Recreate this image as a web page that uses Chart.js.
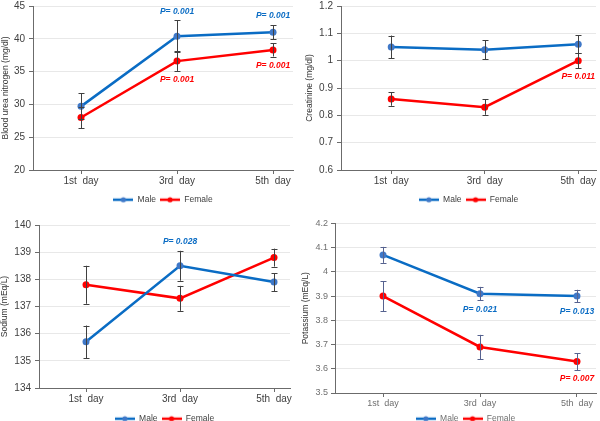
<!DOCTYPE html>
<html>
<head>
<meta charset="utf-8">
<script src="https://cdn.jsdelivr.net/npm/chart.js@4.4.1/dist/chart.umd.min.js"></script>
<style>
  html, body { margin: 0; padding: 0; background: #fff; width: 600px; height: 421px; overflow: hidden; }
  canvas { position: absolute; }
</style>
</head>
<body>
<canvas id="bun" width="300" height="218" style="left:0;top:-4px"></canvas>
<canvas id="cr" width="300" height="218" style="left:300px;top:-4px"></canvas>
<canvas id="na" width="300" height="218" style="left:0;top:215px"></canvas>
<canvas id="k" width="300" height="218" style="left:300px;top:215px"></canvas>
<script>
// Data
const days = ['1st  day', '3rd  day', '5th  day'];
const seriesNames = ['Male', 'Female'];

const bunMale = [29.7, 40.4, 41.0];
const bunMaleErr = [2.0, 2.4, 1.1];
const bunFemale = [28.0, 36.6, 38.3];
const bunFemaleErr = [1.6, 1.5, 1.0];

const crMale = [1.05, 1.04, 1.06];
const crMaleErr = [0.042, 0.035, 0.033];
const crFemale = [0.86, 0.83, 1.0];
const crFemaleErr = [0.025, 0.028, 0.027];

const naMale = [135.7, 138.5, 137.9];
const naMaleErr = [0.6, 0.55, 0.33];
const naFemale = [137.8, 137.3, 138.8];
const naFemaleErr = [0.7, 0.46, 0.33];

const kMale = [4.07, 3.91, 3.90];
const kMaleErr = [0.033, 0.028, 0.026];
const kFemale = [3.90, 3.69, 3.63];
const kFemaleErr = [0.062, 0.05, 0.035];

// P value notes: series 0 = Male, 1 = Female; day = index in days
const bunP = [
  { series: 0, day: 1, text: 'P= 0.001', above: true },
  { series: 0, day: 2, text: 'P= 0.001', above: true },
  { series: 1, day: 1, text: 'P= 0.001', above: false },
  { series: 1, day: 2, text: 'P= 0.001', above: false }
];
const crP = [{ series: 1, day: 2, text: 'P= 0.011', above: false }];
const naP = [{ series: 0, day: 1, text: 'P= 0.028', above: true }];
const kP = [
  { series: 0, day: 1, text: 'P= 0.021', above: false },
  { series: 0, day: 2, text: 'P= 0.013', above: false },
  { series: 1, day: 2, text: 'P= 0.007', above: false }
];

// y axis ranges [min, max, step]
const bunRange = [20, 45, 5];
const crRange = [0.6, 1.2, 0.1];
const naRange = [134, 140, 1];
const kRange = [3.5, 4.2, 0.1];

const FONT = '"Liberation Sans", Arial, sans-serif';
const BLUE = '#0A6CC4';
const BLUE_DOT = '#3F78C8';
const RED = '#FF0000';

// draws the error whiskers from dataset.errors
const errorBars = {
  id: 'errorBars',
  afterDatasetsDraw(chart, args, opts) {
    const { ctx } = chart;
    const x = chart.scales.x, y = chart.scales.y;
    ctx.save();
    ctx.strokeStyle = opts.color;
    ctx.lineWidth = 1;
    chart.data.datasets.forEach((ds) => {
      ds.errors.forEach((e, i) => {
        const px = Math.round(x.getPixelForValue(i)) + 0.5;
        const top = y.getPixelForValue(ds.data[i].y + e);
        const bot = y.getPixelForValue(ds.data[i].y - e);
        ctx.beginPath();
        ctx.moveTo(px, top); ctx.lineTo(px, bot);
        ctx.moveTo(px - 3, Math.round(top) + 0.5); ctx.lineTo(px + 3, Math.round(top) + 0.5);
        ctx.moveTo(px - 3, Math.round(bot) + 0.5); ctx.lineTo(px + 3, Math.round(bot) + 0.5);
        ctx.stroke();
      });
    });
    ctx.restore();
  }
};

// P value texts placed just past the error whisker
const pLabels = {
  id: 'pLabels',
  afterDatasetsDraw(chart, args, opts) {
    const { ctx } = chart;
    const x = chart.scales.x, y = chart.scales.y;
    ctx.save();
    ctx.font = 'italic bold 8.5px ' + FONT;
    ctx.textAlign = 'center';
    ctx.textBaseline = 'middle';
    (opts.items || []).forEach((p) => {
      const ds = chart.data.datasets[p.series];
      const v = ds.data[p.day].y, e = ds.errors[p.day];
      const py = p.above ? y.getPixelForValue(v + e) - 9 : y.getPixelForValue(v - e) + 9;
      ctx.fillStyle = ds.borderColor;
      ctx.fillText(p.text, x.getPixelForValue(p.day), py);
    });
    ctx.restore();
  }
};

function legendIcon(lineColor, dotColor) {
  const c = document.createElement('canvas');
  c.width = 20; c.height = 8;
  const g = c.getContext('2d');
  g.strokeStyle = lineColor; g.lineWidth = 2.5;
  g.beginPath(); g.moveTo(0, 4); g.lineTo(20, 4); g.stroke();
  g.fillStyle = dotColor;
  g.beginPath(); g.arc(10, 4, 2.6, 0, Math.PI * 2); g.fill();
  return c;
}

function makeChart(id, p) {
  const mk = (i, vals, errs, color, dot) => ({
    label: seriesNames[i],
    data: vals.map((v, j) => ({ x: j, y: v })),
    errors: errs,
    borderColor: color,
    backgroundColor: color,
    pointBackgroundColor: dot,
    pointBorderWidth: 0,
    pointRadius: 3.5,
    borderWidth: 2.5,
    tension: 0
  });
  return new Chart(document.getElementById(id), {
    type: 'line',
    data: {
      datasets: [
        mk(0, p.male, p.maleErr, BLUE, BLUE_DOT),
        mk(1, p.female, p.femaleErr, RED, RED)
      ]
    },
    plugins: [errorBars, pLabels],
    options: {
      responsive: false,
      animation: false,
      events: [],
      layout: { padding: { top: 6, right: p.padRight, left: 0, bottom: 0 } },
      plugins: {
        tooltip: { enabled: false },
        errorBars: { color: p.errColor },
        pLabels: { items: p.notes },
        legend: {
          position: 'bottom',
          fullSize: false,
          labels: {
            usePointStyle: true,
            pointStyleWidth: 20,
            padding: 4,
            font: { family: FONT, size: 8.5 },
            generateLabels: (chart) => chart.data.datasets.map((ds, i) => ({
              text: ds.label,
              pointStyle: legendIcon(ds.borderColor, ds.pointBackgroundColor),
              fillStyle: ds.borderColor,
              strokeStyle: ds.borderColor,
              fontColor: p.textColor,
              lineWidth: 0,
              hidden: false,
              datasetIndex: i
            }))
          }
        }
      },
      scales: {
        x: {
          type: 'linear',
          min: p.xMin,
          max: p.xMax,
          afterBuildTicks: (s) => { s.ticks = days.map((d, i) => ({ value: i })); },
          afterFit: (s) => { s.height = p.xHeight; },
          ticks: {
            autoSkip: false,
            maxRotation: 0,
            padding: 1,
            color: p.textColor,
            font: { family: FONT, size: p.fontSize },
            callback: (v) => days[v]
          },
          grid: { drawOnChartArea: false, tickLength: 4, tickColor: '#6b6b6b' },
          border: { color: '#6b6b6b' }
        },
        y: {
          min: p.range[0],
          max: p.range[1],
          afterFit: (s) => { s.width = p.yWidth; },
          ticks: {
            stepSize: p.range[2],
            padding: p.tickPad,
            color: p.textColor,
            font: { family: FONT, size: p.fontSize },
            callback: (v) => String(+v.toFixed(2))
          },
          grid: { color: '#e8e8e8', tickLength: 4, tickColor: '#6b6b6b' },
          border: { color: '#6b6b6b' },
          title: {
            display: true,
            text: p.title,
            padding: { top: p.titleShift, bottom: 0 },
            color: '#333',
            font: { family: FONT, size: 8.5 }
          }
        }
      }
    }
  });
}

makeChart('bun', {
  male: bunMale, maleErr: bunMaleErr, female: bunFemale, femaleErr: bunFemaleErr,
  notes: bunP, range: bunRange, title: 'Blood urea nitrogen (mg/dl)',
  xMin: -0.5, xMax: 2.208, yWidth: 33, xHeight: 21.5, padRight: 7, titleShift: 1,
  fontSize: 10, tickPad: 4, textColor: '#404040', errColor: '#404040'
});
makeChart('cr', {
  male: crMale, maleErr: crMaleErr, female: crFemale, femaleErr: crFemaleErr,
  notes: crP, range: crRange, title: 'Creatinine (mg/dl)',
  xMin: -0.537, xMax: 2.19, yWidth: 41, xHeight: 21.5, padRight: 0, titleShift: 5,
  fontSize: 10, tickPad: 4, textColor: '#404040', errColor: '#404040'
});
makeChart('na', {
  male: naMale, maleErr: naMaleErr, female: naFemale, femaleErr: naFemaleErr,
  notes: naP, range: naRange, title: 'Sodium (mEq/L)',
  xMin: -0.5, xMax: 2.17, yWidth: 39, xHeight: 22.5, padRight: 10, titleShift: 0,
  fontSize: 10, tickPad: 4, textColor: '#404040', errColor: '#404040'
});
makeChart('k', {
  male: kMale, maleErr: kMaleErr, female: kFemale, femaleErr: kFemaleErr,
  notes: kP, range: kRange, title: 'Potassium (mEq/L)',
  xMin: -0.495, xMax: 2.196, yWidth: 35, xHeight: 17.5, padRight: 4, titleShift: 1,
  fontSize: 9, tickPad: 3, textColor: '#6f6f6f', errColor: '#56628f'
});
</script>
</body>
</html>
